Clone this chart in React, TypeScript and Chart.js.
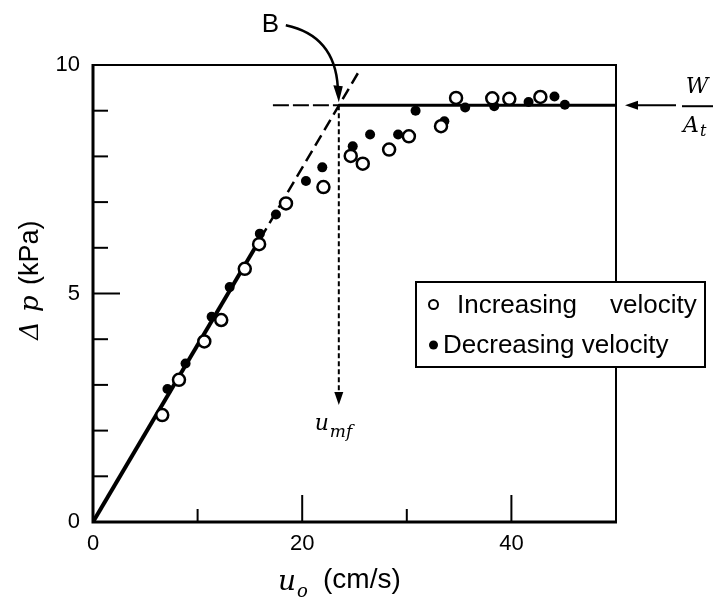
import React, { useEffect, useRef } from 'react';
import { Chart, registerables } from 'chart.js';

Chart.register(...registerables);

// ---------- data ----------
const increasingU = [6.62, 8.22, 10.64, 12.26, 14.51, 15.88, 18.45, 22.03, 24.64, 25.79, 28.31, 30.2, 33.27, 34.71, 38.17, 39.8, 42.77];
const increasingDp = [2.34, 3.11, 3.95, 4.42, 5.54, 6.08, 6.97, 7.33, 8.01, 7.84, 8.15, 8.44, 8.66, 9.28, 9.27, 9.26, 9.3];

const decreasingU = [7.12, 8.85, 11.34, 13.07, 15.95, 17.49, 20.36, 21.92, 24.83, 26.49, 29.17, 30.84, 33.59, 35.58, 38.36, 41.64, 44.12, 45.11];
const decreasingDp = [2.91, 3.47, 4.49, 5.14, 6.31, 6.73, 7.46, 7.76, 8.22, 8.48, 8.48, 9.0, 8.77, 9.07, 9.1, 9.19, 9.31, 9.13];

const fixedBedSolidU = [0, 16];
const fixedBedSolidDp = [0, 6.2];
const fixedBedDashedU = [16, 25.4];
const fixedBedDashedDp = [6.2, 9.85];

const W_AT = 9.12; // W / A_t level (kPa)
const U_MF = 23.5; // minimum fluidization velocity (cm/s)
const plateauU = [U_MF, 50];
const plateauDp = [W_AT, W_AT];
const guideU = [17.2, U_MF];
const guideDp = [W_AT, W_AT];
const umfDropU = [U_MF, U_MF];
const umfDropDp = [W_AT, 2.82];
const UMF_ARROW_TIP = 2.56;

const xTickValues = [0, 20, 40];
const yTickValues = [0, 5, 10];
const xInnerMajor = [20, 40];
const xInnerMinor = [10, 30];
const yInnerMajor = [5];
const yInnerMinor = [1, 2, 3, 4, 6, 7, 8, 9];

const SANS = '"Liberation Sans", Arial, Helvetica, sans-serif';
const SERIF = '"DejaVu Serif", "Liberation Serif", serif';

const pts = (xs: number[], ys: number[]) => xs.map((v, i) => ({ x: v, y: ys[i] }));

const annotate = {
  id: 'annotate',
  afterDraw(chart: any) {
    const { ctx, chartArea: a, scales } = chart;
    const xs = scales.x;
    const ys = scales.y;
    const px = (v: number) => xs.getPixelForValue(v);
    const py = (v: number) => ys.getPixelForValue(v);
    const line = (x1: number, y1: number, x2: number, y2: number) => {
      ctx.beginPath();
      ctx.moveTo(x1, y1);
      ctx.lineTo(x2, y2);
      ctx.stroke();
    };
    const tri = (p: number[][]) => {
      ctx.beginPath();
      ctx.moveTo(p[0][0], p[0][1]);
      ctx.lineTo(p[1][0], p[1][1]);
      ctx.lineTo(p[2][0], p[2][1]);
      ctx.closePath();
      ctx.fill();
    };

    ctx.save();
    ctx.strokeStyle = '#000';
    ctx.fillStyle = '#000';
    ctx.lineCap = 'butt';
    ctx.setLineDash([]);

    // frame
    ctx.lineWidth = 2;
    ctx.beginPath();
    ctx.moveTo(a.left, a.top);
    ctx.lineTo(a.right, a.top);
    ctx.lineTo(a.right, a.bottom);
    ctx.stroke();
    ctx.lineWidth = 3;
    ctx.beginPath();
    ctx.moveTo(a.left, a.top - 1);
    ctx.lineTo(a.left, a.bottom);
    ctx.lineTo(a.right + 1, a.bottom);
    ctx.stroke();

    // inward ticks
    ctx.lineWidth = 2;
    yInnerMinor.forEach((v) => line(a.left, py(v), a.left + 15, py(v)));
    yInnerMajor.forEach((v) => line(a.left, py(v), a.left + 27, py(v)));
    xInnerMinor.forEach((v) => line(px(v), a.bottom, px(v), a.bottom - 13));
    xInnerMajor.forEach((v) => line(px(v), a.bottom, px(v), a.bottom - 27));

    const bx = px(U_MF);
    const by = py(W_AT);

    // B label and curved arrow
    ctx.textAlign = 'left';
    ctx.textBaseline = 'alphabetic';
    ctx.font = `26px ${SANS}`;
    ctx.fillText('B', bx - 77, by - 73);
    ctx.lineWidth = 2.5;
    ctx.beginPath();
    ctx.moveTo(bx - 53, by - 80);
    ctx.bezierCurveTo(bx - 20, by - 73, bx - 3, by - 52, bx - 1, by - 18);
    ctx.stroke();
    tri([[bx, by - 3], [bx - 5.5, by - 20], [bx + 4, by - 19]]);

    // W/At arrow and label
    ctx.lineWidth = 2;
    line(a.right + 60, by, a.right + 18, by);
    tri([[a.right + 9, by], [a.right + 22, by - 4.5], [a.right + 22, by + 4.5]]);
    line(a.right + 66, by + 1, a.right + 97, by + 1);
    ctx.font = `italic 22px ${SERIF}`;
    ctx.textAlign = 'center';
    ctx.fillText('W', a.right + 81, by - 12);
    ctx.textAlign = 'left';
    ctx.fillText('A', a.right + 67, by + 27);
    ctx.font = `italic 16px ${SERIF}`;
    ctx.fillText('t', a.right + 84, by + 31);

    // u_mf arrow and label
    const tipY = py(UMF_ARROW_TIP);
    tri([[bx, tipY], [bx - 4.5, tipY - 13], [bx + 4.5, tipY - 13]]);
    ctx.font = `italic 22px ${SERIF}`;
    ctx.fillText('u', bx - 24, tipY + 25);
    ctx.font = `italic 17px ${SERIF}`;
    ctx.fillText('mf', bx - 9, tipY + 32);

    // legend
    const lx = 416, ly = 282, lw = 289, lh = 85;
    ctx.fillStyle = '#fff';
    ctx.fillRect(lx, ly, lw, lh);
    ctx.fillStyle = '#000';
    ctx.lineWidth = 2;
    ctx.strokeRect(lx, ly, lw, lh);
    ctx.beginPath();
    ctx.arc(433.5, 304.5, 4.5, 0, Math.PI * 2);
    ctx.stroke();
    ctx.beginPath();
    ctx.arc(433.5, 345, 4.5, 0, Math.PI * 2);
    ctx.fill();
    ctx.font = `26px ${SANS}`;
    ctx.fillText('Increasing', 457, 313);
    ctx.fillText('velocity', 610, 313);
    ctx.fillText('Decreasing velocity', 443, 353);

    // x-axis title
    ctx.font = `italic 28px ${SERIF}`;
    ctx.fillText('u', 278, 590);
    ctx.font = `italic 18px ${SERIF}`;
    ctx.fillText('o', 297, 597);
    ctx.font = `28px ${SANS}`;
    ctx.fillText('(cm/s)', 323, 588);

    // y-axis title (rotated)
    ctx.save();
    ctx.translate(38, 340);
    ctx.rotate(-Math.PI / 2);
    ctx.font = `italic 26px ${SERIF}`;
    ctx.fillText('Δ', 0, 0);
    ctx.fillText('p', 28, 0);
    ctx.font = `27px ${SANS}`;
    ctx.fillText('(kPa)', 55, 0);
    ctx.restore();

    ctx.restore();
  },
};

export default function App() {
  const ref = useRef<HTMLCanvasElement>(null);

  useEffect(() => {
    const canvas = ref.current;
    if (!canvas) return;
    const lineDs = (label: string, data: any[], width: number, dash: number[]) => ({
      label,
      data,
      showLine: true,
      borderColor: '#000',
      backgroundColor: '#000',
      borderWidth: width,
      borderDash: dash,
      pointRadius: 0,
      fill: false,
    });
    const chart = new Chart(canvas, {
      type: 'scatter',
      data: {
        datasets: [
          {
            label: 'Increasing velocity',
            data: pts(increasingU, increasingDp),
            pointStyle: 'circle',
            pointRadius: 6,
            pointBackgroundColor: '#fff',
            pointBorderColor: '#000',
            pointBorderWidth: 2.5,
          },
          {
            label: 'Decreasing velocity',
            data: pts(decreasingU, decreasingDp),
            pointStyle: 'circle',
            pointRadius: 5,
            pointBackgroundColor: '#000',
            pointBorderColor: '#000',
            pointBorderWidth: 0,
          },
          lineDs('fixed bed', pts(fixedBedSolidU, fixedBedSolidDp), 4, []),
          lineDs('fixed bed extrapolated', pts(fixedBedDashedU, fixedBedDashedDp), 2.5, [12, 6]),
          lineDs('W/At', pts(plateauU, plateauDp), 3, []),
          lineDs('W/At guide', pts(guideU, guideDp), 2, [16, 4]),
          lineDs('u_mf', pts(umfDropU, umfDropDp), 2, [5, 3]),
        ] as any,
      },
      options: {
        animation: false,
        responsive: false,
        events: [],
        layout: { padding: { top: 65, right: 102, left: 0, bottom: 0 } },
        plugins: {
          legend: { display: false },
          tooltip: { enabled: false },
        },
        scales: {
          x: {
            type: 'linear',
            min: 0,
            max: 50,
            grid: { display: false, drawTicks: false },
            border: { display: false },
            afterBuildTicks: (s: any) => {
              s.ticks = xTickValues.map((v) => ({ value: v }));
            },
            afterFit: (s: any) => {
              s.height = 81;
            },
            ticks: {
              color: '#000',
              padding: 9,
              maxRotation: 0,
              font: { family: SANS, size: 22 },
            },
          },
          y: {
            type: 'linear',
            min: 0,
            max: 10,
            grid: { display: false, drawTicks: false },
            border: { display: false },
            afterBuildTicks: (s: any) => {
              s.ticks = yTickValues.map((v) => ({ value: v }));
            },
            afterFit: (s: any) => {
              s.width = 93;
            },
            ticks: {
              color: '#000',
              padding: 13,
              font: { family: SANS, size: 22 },
            },
          },
        },
      } as any,
      plugins: [annotate],
    });
    return () => chart.destroy();
  }, []);

  return (
    <div style={{ position: 'fixed', left: 0, top: 0, width: 718, height: 603, background: '#fff' }}>
      <canvas ref={ref} width={718} height={603} style={{ display: 'block', width: 718, height: 603 }} />
    </div>
  );
}
